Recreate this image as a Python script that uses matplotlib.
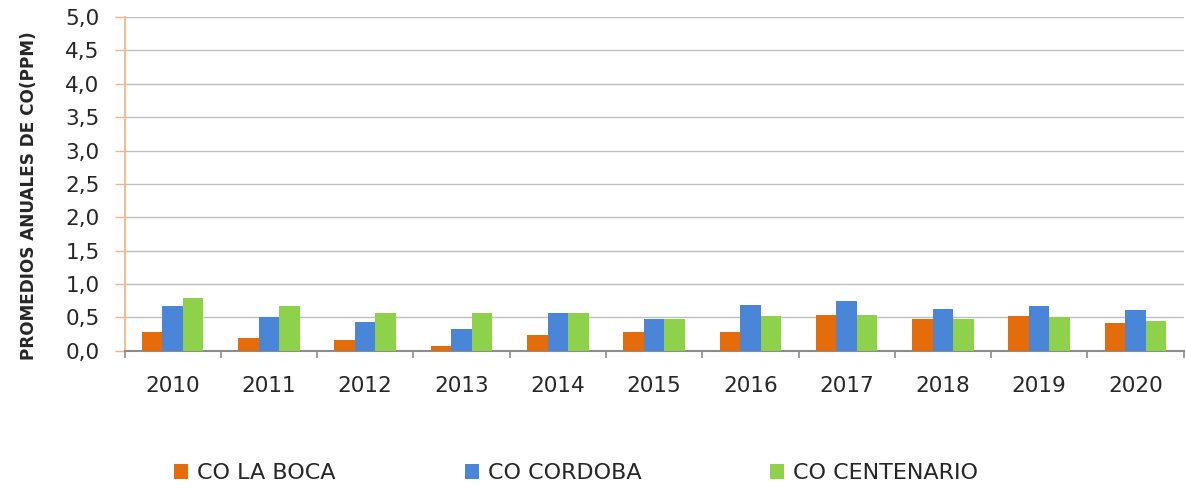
import matplotlib
matplotlib.use("Agg")
import matplotlib.pyplot as plt
import numpy as np
from matplotlib.ticker import FixedLocator, FuncFormatter

years = ["2010", "2011", "2012", "2013", "2014", "2015", "2016", "2017", "2018", "2019", "2020"]
la_boca = [0.28, 0.20, 0.17, 0.08, 0.24, 0.28, 0.29, 0.54, 0.47, 0.52, 0.42]
cordoba = [0.67, 0.51, 0.43, 0.33, 0.56, 0.47, 0.69, 0.75, 0.63, 0.67, 0.61]
centenario = [0.79, 0.67, 0.57, 0.57, 0.56, 0.48, 0.52, 0.54, 0.47, 0.50, 0.44]
series_names = ["CO LA BOCA", "CO CORDOBA", "CO CENTENARIO"]
colors = ["#E46C0A", "#4A86D8", "#8ED14B"]

plt.rcParams["font.family"] = ["DejaVu Sans"]

fig = plt.figure(figsize=(11.86, 4.88), dpi=100)
ax = fig.add_axes([0.105, 0.281, 0.893, 0.684])

x = np.arange(len(years))
w = 0.213
handles = []
for i, (vals, name, c) in enumerate(zip([la_boca, cordoba, centenario], series_names, colors)):
    h = ax.bar(x + (i - 1) * w, vals, width=w, color=c, label=name, zorder=3)
    handles.append(h)

ax.set_xlim(-0.5, len(years) - 0.5)
ax.set_ylim(0, 5.0)
ax.set_yticks(np.arange(0, 5.01, 0.5))
ax.yaxis.set_major_formatter(FuncFormatter(lambda v, p: f"{v:.1f}".replace(".", ",")))
ax.grid(axis="y", color="#BFBFBF", linewidth=1.0, zorder=0)

ax.set_xticks(x)
ax.set_xticklabels(years, fontsize=15.5, color="#262626")
ax.xaxis.set_minor_locator(FixedLocator(np.arange(-0.5, len(years), 1.0)))
ax.tick_params(axis="x", which="major", length=0, pad=18)
ax.tick_params(axis="x", which="minor", length=5, color="#8C8C8C", width=1.2)
ax.tick_params(axis="y", length=7, color="#F4B183", width=1.0, labelsize=15.5,
               labelcolor="#262626", pad=11)

for s in ["top", "right"]:
    ax.spines[s].set_visible(False)
ax.spines["left"].set_color("#F4B183")
ax.spines["left"].set_linewidth(1.2)
ax.spines["bottom"].set_color("#8C8C8C")
ax.spines["bottom"].set_linewidth(1.5)

ax.set_ylabel("PROMEDIOS ANUALES DE CO(PPM)", fontsize=12.2, fontweight="bold", color="#262626")
ax.yaxis.set_label_coords(-0.082, 0.465)

leg = fig.legend(handles=handles, labels=series_names, loc="center left", bbox_to_anchor=(0.147, 0.03),
                 ncol=3, frameon=False, fontsize=16, handlelength=0.63, handleheight=0.7,
                 columnspacing=5.8, handletextpad=0.4, borderaxespad=0, borderpad=0)
for t in leg.get_texts():
    t.set_color("#262626")

fig.savefig("out.png", dpi=100)
